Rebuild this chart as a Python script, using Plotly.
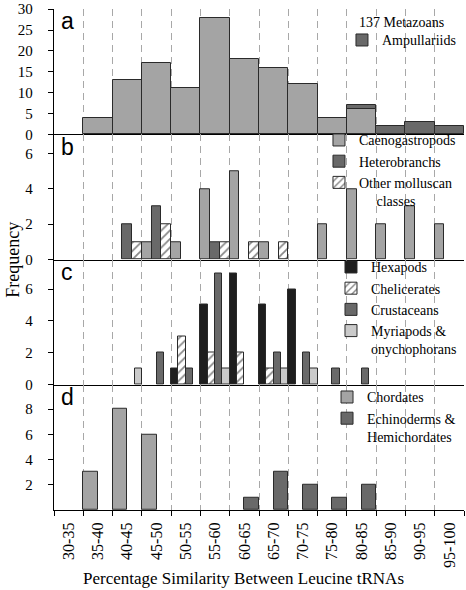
import plotly.graph_objects as go
from plotly.subplots import make_subplots

bins = ["30-35", "35-40", "40-45", "45-50", "50-55", "55-60", "60-65",
        "65-70", "70-75", "75-80", "80-85", "85-90", "90-95", "95-100"]

# panel a
metazoans    = [0, 4, 13, 17, 11, 28, 18, 16, 12, 4, 6, 0, 0, 0]
ampullariids = [0, 0, 0, 0, 0, 0, 0, 0, 0, 0, 1, 2, 3, 2]
# panel b
caenogastropods = [0, 0, 0, 1, 1, 4, 5, 1, 0, 2, 4, 2, 3, 2]
heterobranchs   = [0, 0, 2, 3, 0, 1, 0, 0, 0, 0, 0, 0, 0, 0]
other_molluscs  = [0, 0, 1, 2, 0, 1, 1, 1, 0, 0, 0, 0, 0, 0]
# panel c
hexapods     = [0, 0, 0, 0, 1, 5, 7, 5, 6, 0, 0, 0, 0, 0]
chelicerates = [0, 0, 0, 0, 3, 2, 2, 1, 0, 0, 0, 0, 0, 0]
crustaceans  = [0, 0, 0, 2, 1, 7, 0, 2, 2, 1, 1, 0, 0, 0]
myriapods    = [0, 0, 1, 0, 0, 1, 0, 1, 1, 0, 0, 0, 0, 0]
# panel d
chordates   = [0, 3, 8, 6, 0, 0, 0, 0, 0, 0, 0, 0, 0, 0]
echinoderms = [0, 0, 0, 0, 0, 0, 1, 3, 2, 1, 2, 0, 0, 0]

LIGHT = "#a4a4a4"
DARK = "#696969"
BLACK = "#1e1e1e"
PALE = "#cacaca"
EDGE = "#2a2a2a"
SERIF = "Liberation Serif, Times New Roman, serif"
SANS = "Liberation Sans, Arial, sans-serif"


def nz(vals):
    return [v if v else None for v in vals]


fig = make_subplots(rows=4, cols=1, shared_xaxes=True, vertical_spacing=0)


def bar(name, vals, color, row, legend, group, hatch=False, base=None, show=True):
    marker = dict(color=color, line=dict(color=EDGE, width=1))
    if hatch:
        marker = dict(color="white", line=dict(color=EDGE, width=1),
                      pattern=dict(shape="/", fgcolor="#111111", bgcolor="white",
                                   size=6, solidity=0.3))
    fig.add_trace(go.Bar(x=bins, y=nz(vals), name=name, marker=marker,
                         base=base, offsetgroup=group, alignmentgroup=f"panel{row}",
                         legend=legend, showlegend=show), row=row, col=1)


# panel a (stacked within one slot)
bar("137 Metazoans", metazoans, LIGHT, 1, "legend", "a", show=False)
bar("Ampullariids", ampullariids, DARK, 1, "legend", "a",
    base=[m if a else None for m, a in zip(metazoans, ampullariids)])
# panel b
bar("Caenogastropods", caenogastropods, LIGHT, 2, "legend2", "b1")
bar("Heterobranchs", heterobranchs, DARK, 2, "legend2", "b2")
bar("Other molluscan<br>\u00a0\u00a0\u00a0\u00a0\u00a0classes", other_molluscs, None, 2,
    "legend2", "b3", hatch=True)
# panel c
bar("Hexapods", hexapods, BLACK, 3, "legend3", "c1")
bar("Chelicerates", chelicerates, None, 3, "legend3", "c2", hatch=True)
bar("Crustaceans", crustaceans, DARK, 3, "legend3", "c3")
bar("Myriapods &<br>onychophorans", myriapods, PALE, 3, "legend3", "c4")
# panel d
bar("Chordates", chordates, LIGHT, 4, "legend4", "d1")
bar("Echinoderms &<br>Hemichordates", echinoderms, DARK, 4, "legend4", "d2")

fig.update_layout(
    width=466, height=590,
    margin=dict(l=54, r=2, t=9, b=80, autoexpand=False),
    paper_bgcolor="white", plot_bgcolor="white",
    barmode="group", bargap=0, bargroupgap=0,
    font=dict(family=SERIF, size=15, color="black"),
)

leg = dict(xanchor="left", yanchor="top", bgcolor="rgba(0,0,0,0)",
           font=dict(family=SERIF, size=14, color="black"), valign="top",
           traceorder="normal", tracegroupgap=0)
fig.update_layout(
    legend=dict(leg, x=0.7024, y=0.9693),
    legend2=dict(leg, x=0.6463, y=0.7697),
    legend3=dict(leg, x=0.6756, y=0.5162),
    legend4=dict(leg, x=0.6659, y=0.2567),
)

for r in range(1, 5):
    fig.update_xaxes(
        type="category", categoryorder="array", categoryarray=bins,
        range=[-0.5, 13.5], tickson="boundaries",
        showgrid=True, gridcolor="#a8a8a8", gridwidth=1, griddash="7px,5px",
        showline=True, linecolor="black", linewidth=1.3,
        zeroline=False, showticklabels=(r == 4),
        ticks="outside" if r == 4 else "", ticklen=5, tickcolor="black",
        ticklabelstandoff=5,
        tickangle=-90, tickfont=dict(family=SERIF, size=16),
        row=r, col=1)

yranges = [[0, 30.05], [0, 7.09], [0, 7.85], [0, 9.93]]
yticks = [[0, 5, 10, 15, 20, 25, 30], [0, 2, 4, 6], [0, 2, 4, 6], [2, 4, 6, 8]]
for r in range(1, 5):
    fig.update_yaxes(
        range=yranges[r - 1], tickvals=yticks[r - 1],
        showgrid=False, zeroline=False,
        showline=True, linecolor="black", linewidth=1.3,
        ticks="outside", ticklen=5, tickcolor="black",
        ticklabelstandoff=12,
        tickfont=dict(family=SERIF, size=15),
        row=r, col=1)

# panel letters
for r, letter in zip(range(1, 5), ["a", "b", "c", "d"]):
    yref = "y domain" if r == 1 else f"y{r} domain"
    fig.add_annotation(text=letter, xref="x domain", yref=yref, x=0.012, y=1.02,
                       xanchor="left", yanchor="top", showarrow=False,
                       font=dict(family=SANS, size=23, color="black"))

fig.add_annotation(text="137 Metazoans", xref="paper", yref="paper",
                   x=0.739, y=0.974, xanchor="left", yanchor="middle",
                   showarrow=False, font=dict(family=SERIF, size=14, color="black"))

fig.add_annotation(text="Frequency", xref="paper", yref="paper",
                   x=-0.102, y=0.5, textangle=-90, xanchor="center", yanchor="middle",
                   showarrow=False, font=dict(family=SERIF, size=18, color="black"))
fig.add_annotation(text="Percentage Similarity Between Leucine tRNAs", xref="paper", yref="paper",
                   x=0.463, y=-0.136, xanchor="center", yanchor="middle",
                   showarrow=False, font=dict(family=SERIF, size=17, color="black"))

fig.write_html("out.html", config={"displayModeBar": False},
               post_script="document.body.style.margin='0';")
